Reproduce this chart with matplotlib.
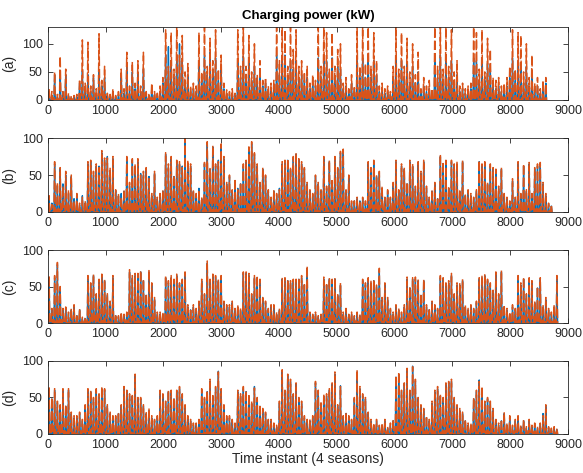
import numpy as np
import matplotlib
matplotlib.use("Agg")
import matplotlib.pyplot as plt

# Daily-ish charging power peaks (kW), one value per 48 h
a_orange = [20, 15, 50, 10, 78, 15, 55, 12, 8, 8, 10, 37, 107, 30, 103, 25, 45, 20, 118, 35,
            60, 12, 10, 20, 8, 15, 55, 20, 85, 25, 68, 30, 70, 25, 85, 15, 12, 30, 15, 12,
            25, 40, 125, 60, 120, 55, 130, 80, 115, 50, 65, 25, 30, 25, 120, 50, 130, 60, 110, 70,
            125, 55, 80, 30, 18, 15, 20, 12, 125, 60, 130, 60, 115, 50, 100, 45, 70, 35, 40, 25,
            30, 35, 130, 70, 130, 125, 60, 130, 90, 125, 60, 70, 50, 60, 30, 45, 35, 130, 60, 130,
            120, 55, 120, 60, 90, 100, 30, 40, 20, 45, 25, 130, 60, 130, 65, 130, 60, 120, 70, 25,
            30, 20, 25, 15, 60, 130, 55, 120, 60, 110, 50, 100, 45, 85, 20, 40, 25, 35, 20, 130,
            60, 130, 55, 130, 60, 125, 50, 70, 25, 30, 20, 25, 30, 130, 120, 55, 125, 50, 110, 90,
            40, 35, 40, 25, 30, 40, 60, 125, 55, 120, 115, 50, 100, 40, 80, 30, 40, 20, 35, 40]
a_blue = [12, 8, 45, 5, 50, 10, 45, 8, 4, 5, 6, 30, 52, 20, 45, 15, 40, 12, 50, 25,
          40, 8, 6, 12, 5, 10, 45, 12, 60, 18, 50, 20, 50, 15, 55, 10, 8, 20, 10, 8,
          15, 30, 80, 95, 70, 40, 75, 100, 70, 35, 45, 15, 20, 15, 70, 35, 80, 45, 85, 50,
          75, 35, 55, 20, 12, 10, 12, 8, 70, 40, 78, 40, 70, 35, 60, 30, 45, 25, 30, 15,
          20, 25, 80, 45, 70, 80, 40, 70, 55, 70, 40, 45, 35, 40, 20, 30, 25, 75, 40, 70,
          70, 35, 75, 40, 60, 55, 20, 25, 12, 30, 15, 70, 40, 75, 40, 80, 40, 70, 45, 15,
          20, 12, 15, 10, 40, 75, 35, 70, 40, 65, 30, 60, 30, 50, 12, 25, 15, 20, 12, 80,
          40, 80, 35, 75, 40, 70, 30, 45, 15, 20, 12, 15, 20, 75, 70, 35, 75, 35, 65, 55,
          25, 20, 25, 15, 20, 25, 40, 75, 35, 70, 65, 30, 60, 25, 50, 20, 25, 12, 20, 30]

b_orange = [22, 10, 68, 40, 60, 35, 55, 30, 50, 15, 25, 12, 20, 15, 68, 70, 55, 65, 60, 83,
            73, 73, 60, 75, 30, 25, 20, 30, 75, 40, 72, 65, 72, 50, 55, 60, 45, 25, 55, 20,
            25, 30, 80, 65, 75, 50, 70, 68, 60, 100, 70, 65, 30, 25, 30, 20, 67, 95, 60, 90,
            65, 68, 92, 75, 40, 50, 30, 45, 30, 40, 65, 70, 88, 95, 80, 65, 40, 60, 50, 30,
            20, 30, 25, 30, 68, 70, 72, 60, 75, 80, 72, 68, 60, 40, 30, 25, 50, 40, 30, 75,
            35, 70, 45, 75, 60, 82, 85, 30, 50, 15, 15, 20, 15, 20, 15, 68, 60, 70, 50, 55,
            35, 20, 30, 20, 40, 70, 30, 65, 60, 40, 70, 65, 35, 68, 55, 70, 35, 20, 30, 40,
            20, 78, 68, 70, 35, 70, 65, 68, 30, 70, 25, 30, 25, 20, 30, 70, 65, 68, 40, 65,
            60, 58, 35, 60, 25, 20, 15, 45, 20, 68, 25, 65, 30, 67, 25, 60, 65, 67, 40, 25,
            12, 10]
b_blue = [18, 12, 65, 35, 58, 38, 50, 25, 48, 18, 20, 10, 22, 12, 65, 68, 50, 62, 62, 80,
          70, 75, 55, 72, 28, 22, 25, 28, 72, 35, 70, 60, 68, 52, 50, 58, 48, 22, 52, 18,
          22, 28, 78, 60, 72, 48, 68, 65, 62, 98, 65, 62, 28, 22, 32, 18, 65, 92, 58, 88,
          62, 70, 90, 72, 38, 48, 28, 42, 32, 38, 62, 68, 85, 92, 78, 62, 38, 58, 48, 28,
          18, 28, 22, 32, 65, 68, 70, 58, 72, 78, 70, 65, 58, 38, 28, 22, 48, 38, 28, 72,
          32, 68, 42, 72, 58, 80, 82, 28, 48, 12, 15, 18, 15, 18, 12, 65, 58, 68, 48, 52,
          32, 18, 28, 18, 38, 68, 28, 62, 58, 38, 68, 62, 32, 65, 52, 68, 32, 18, 28, 38,
          18, 75, 65, 68, 32, 68, 62, 65, 28, 68, 22, 28, 22, 18, 28, 68, 62, 65, 38, 62,
          58, 55, 32, 58, 22, 18, 12, 42, 18, 65, 22, 62, 28, 65, 22, 58, 62, 65, 38, 22,
          10, 8]

c_orange = [65, 20, 65, 83, 50, 20, 22, 15, 20, 25, 12, 20, 8, 8, 65, 55, 67, 40, 60, 67,
            60, 40, 30, 65, 12, 10, 15, 12, 15, 73, 65, 68, 68, 72, 60, 40, 73, 55, 35, 15,
            15, 15, 65, 58, 65, 60, 67, 55, 60, 70, 25, 20, 25, 20, 30, 60, 40, 85, 60, 67,
            65, 60, 65, 30, 25, 25, 30, 20, 25, 20, 70, 70, 68, 40, 65, 65, 60, 35, 30, 20,
            25, 25, 15, 20, 62, 62, 60, 58, 60, 60, 62, 65, 55, 78, 15, 12, 15, 10, 12, 63,
            55, 62, 60, 62, 40, 55, 15, 20, 12, 15, 10, 15, 12, 60, 55, 62, 58, 60, 52, 75,
            35, 55, 35, 20, 15, 25, 20, 15, 25, 63, 50, 62, 63, 60, 40, 60, 25, 20, 30, 25,
            20, 65, 62, 55, 58, 68, 40, 55, 55, 60, 25, 20, 25, 20, 30, 62, 65, 67, 60, 55,
            45, 70, 40, 72, 25, 20, 15, 25, 20, 65, 55, 63, 40, 62, 58, 30, 50, 62, 25, 35,
            20, 15, 25, 65]
c_blue = [62, 18, 62, 80, 48, 18, 20, 12, 18, 22, 10, 18, 6, 6, 62, 52, 65, 38, 58, 65,
          58, 38, 28, 62, 10, 8, 12, 10, 12, 70, 62, 65, 65, 70, 58, 38, 70, 52, 32, 12,
          12, 12, 62, 55, 62, 58, 65, 52, 58, 68, 22, 18, 22, 18, 28, 58, 38, 82, 58, 65,
          62, 58, 62, 28, 22, 22, 28, 18, 22, 18, 68, 68, 65, 38, 62, 62, 58, 32, 28, 18,
          22, 22, 12, 18, 60, 60, 58, 55, 58, 58, 60, 62, 52, 75, 12, 10, 12, 8, 10, 60,
          52, 60, 58, 60, 38, 52, 12, 18, 10, 12, 8, 12, 10, 58, 52, 60, 55, 58, 50, 72,
          32, 52, 32, 18, 12, 22, 18, 12, 22, 60, 48, 60, 60, 58, 38, 58, 22, 18, 28, 22,
          18, 62, 60, 52, 55, 65, 38, 52, 52, 58, 22, 18, 22, 18, 28, 60, 62, 65, 58, 52,
          42, 68, 38, 70, 22, 18, 12, 22, 18, 62, 52, 60, 38, 60, 55, 28, 48, 60, 22, 32,
          18, 12, 22, 62]

d_orange = [65, 50, 62, 45, 40, 62, 40, 62, 30, 25, 25, 30, 20, 40, 62, 60, 50, 62, 55, 65,
            62, 40, 30, 25, 25, 30, 40, 65, 60, 55, 55, 82, 50, 50, 40, 30, 35, 25, 20, 25,
            60, 55, 45, 60, 60, 50, 60, 65, 55, 40, 25, 20, 15, 15, 20, 62, 50, 60, 75, 55,
            65, 85, 62, 40, 25, 25, 20, 15, 60, 55, 65, 60, 55, 45, 63, 50, 40, 35, 30, 20,
            20, 15, 12, 45, 88, 60, 82, 75, 55, 70, 50, 45, 25, 20, 20, 25, 72, 60, 45, 55,
            55, 62, 70, 85, 40, 65, 25, 30, 25, 20, 50, 88, 65, 55, 50, 30, 20, 15, 20, 12,
            15, 20, 10, 15, 20, 80, 85, 60, 70, 90, 60, 92, 75, 50, 40, 35, 25, 20, 45, 60,
            65, 55, 50, 70, 72, 75, 50, 40, 35, 30, 20, 15, 15, 50, 60, 72, 65, 45, 50, 45,
            35, 20, 15, 20, 30, 15, 25, 12, 20, 25, 12, 20, 10, 20, 12, 15, 10, 15, 25, 40,
            10, 8, 10, 8]
d_blue = [62, 48, 60, 42, 38, 60, 38, 60, 28, 22, 22, 28, 18, 38, 60, 58, 48, 60, 52, 62,
          60, 38, 28, 22, 22, 28, 38, 62, 58, 52, 52, 80, 48, 48, 38, 28, 32, 22, 18, 22,
          58, 52, 42, 58, 58, 48, 58, 62, 52, 38, 22, 18, 12, 12, 18, 60, 48, 58, 72, 52,
          62, 86, 60, 38, 22, 22, 18, 12, 58, 52, 62, 58, 52, 42, 65, 48, 38, 32, 28, 18,
          18, 12, 10, 42, 85, 58, 80, 72, 52, 68, 48, 42, 22, 18, 18, 22, 70, 58, 42, 52,
          52, 60, 68, 82, 38, 66, 22, 28, 22, 18, 48, 85, 62, 52, 48, 28, 18, 12, 18, 10,
          12, 18, 8, 12, 18, 78, 82, 58, 68, 88, 58, 93, 72, 48, 38, 32, 22, 18, 42, 58,
          62, 52, 48, 68, 70, 72, 48, 38, 32, 28, 18, 12, 12, 48, 58, 74, 62, 42, 48, 42,
          32, 18, 12, 18, 28, 12, 22, 10, 18, 22, 10, 18, 8, 18, 10, 12, 8, 12, 28, 38,
          8, 6, 8, 6]

panels = [("(a)", a_blue, a_orange, 130),
          ("(b)", b_blue, b_orange, 100),
          ("(c)", c_blue, c_orange, 100),
          ("(d)", d_blue, d_orange, 100)]

# axes boxes in figure fractions (left, bottom, width, height)
boxes = [[0.0818, 0.7886, 0.8925, 0.1543],
         [0.0818, 0.5518, 0.8925, 0.1564],
         [0.0818, 0.3171, 0.8925, 0.1543],
         [0.0818, 0.0825, 0.8925, 0.1543]]


def spikes(peaks):
    # each sample is a charging spike; power sits at zero in between
    peaks = np.asarray(peaks, dtype=float)
    n = len(peaks)
    y = np.zeros((n, 4))
    y[:, 2] = peaks
    start = np.arange(n) * 48
    x = np.column_stack([start, start + 12, start + 24, start + 36])
    return x.ravel(), y.ravel()


plt.rcParams['font.family'] = ['Liberation Sans', 'DejaVu Sans']
fig = plt.figure(figsize=(5.83, 4.73), dpi=100)
dark = '#262626'

for (label, blue, orange, ymax), box in zip(panels, boxes):
    ax = fig.add_axes(box)
    xb, yb = spikes(blue)
    xo, yo = spikes(orange)
    ax.plot(xb, yb, color='#0072BD', lw=1.0)
    ax.plot(xo, yo, color='#D95319', lw=1.1, dashes=(6, 2))
    ax.set_xlim(0, 9000)
    ax.set_ylim(0, ymax)
    ax.set_xticks(np.arange(0, 9001, 1000))
    ax.set_yticks([0, 50, 100])
    ax.set_ylabel(label, fontsize=10, color=dark, labelpad=4)
    ax.tick_params(direction='in', top=True, right=True, length=3.5, width=0.6,
                   labelsize=9, colors=dark)
    for s in ax.spines.values():
        s.set_linewidth(0.6)
        s.set_color(dark)
    if label == "(a)":
        ax.set_title("Charging power (kW)", fontsize=9.5, fontweight='bold', pad=6)
    if label == "(d)":
        ax.set_xlabel("Time instant (4 seasons)", fontsize=10, color=dark, labelpad=1)

fig.savefig("out.png", dpi=100)
